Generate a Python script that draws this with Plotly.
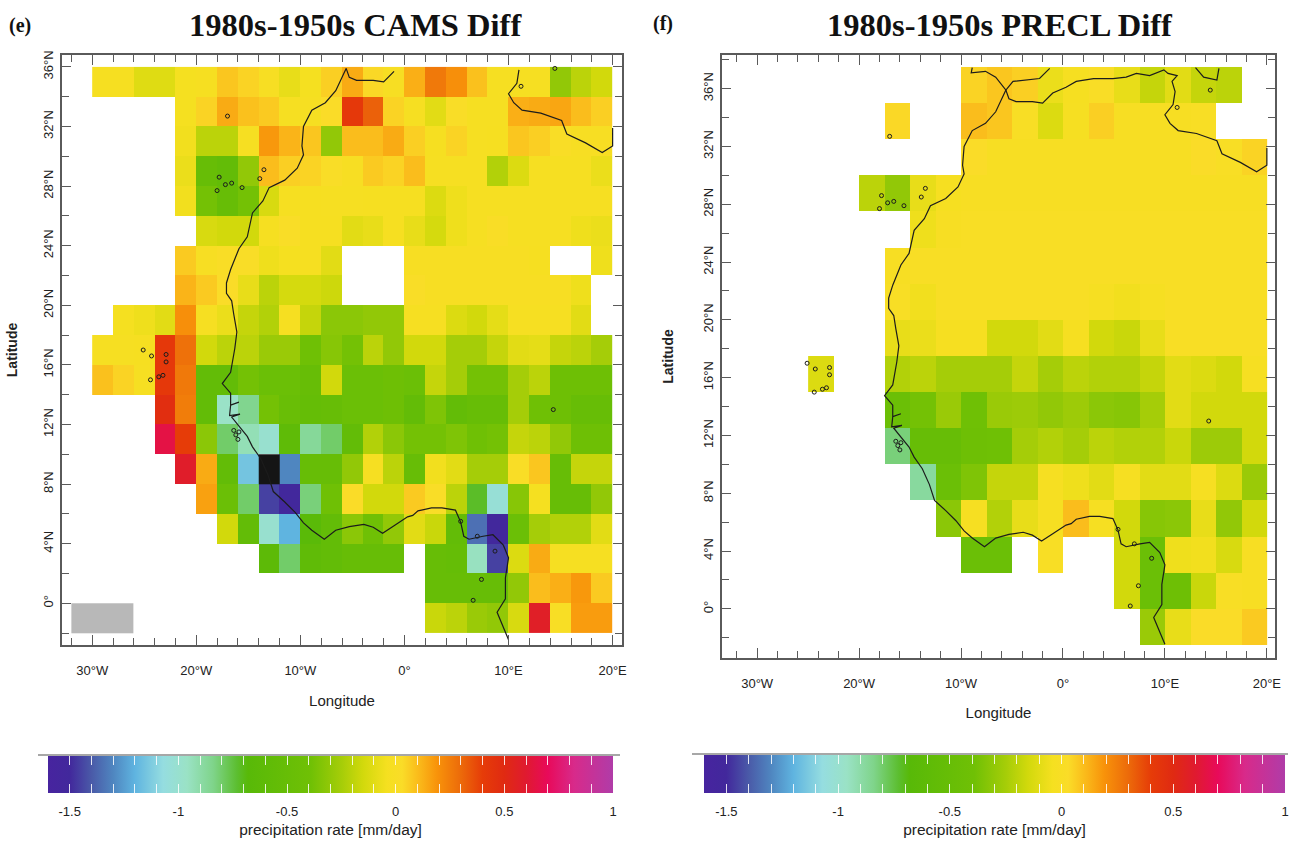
import plotly.graph_objects as go

N = None
W, H = 1293, 845

# ---------- CAMS grid (2 x 2 deg), rows north to south ----------
cams_lon = [-29,-27,-25,-23,-21,-19,-17,-15,-13,-11,-9,-7,-5,-3,-1,1,3,5,7,9,11,13,15,17,19]
cams_lat = [35,33,31,29,27,25,23,21,19,17,15,13,11,9,7,5,3,1,-1]
cams_z = [
 [-.03,-.03,-.11,-.11,-.04,-.03,.08,.05,-.01,-.08,-.04,.06,.14,.04,-.01,.13,.26,.2,.09,-.02,-.02,-.02,-.3,-.2,-.15],
 [N,N,N,N,-.04,.05,.14,.09,.07,-.02,-.02,.03,.42,.32,.05,-.02,-.1,.02,-.02,-.02,.13,.14,.15,.1,.06],
 [N,N,N,N,-.05,-.2,-.2,-.02,.18,.12,.08,-.3,.1,.1,.14,.06,-.03,.05,-.02,-.03,.08,.06,.01,-.01,-.01],
 [N,N,N,N,-.07,-.5,-.55,-.3,.1,.06,.05,.02,-.01,.07,.05,.1,-.02,-.02,-.02,-.22,-.12,-.02,-.02,-.02,-.07],
 [N,N,N,N,-.05,-.38,-.5,-.38,-.13,-.03,-.03,-.02,-.02,-.03,-.03,-.03,-.12,-.06,-.02,-.02,-.02,-.02,-.02,-.02,-.02],
 [N,N,N,N,N,-.13,-.15,-.15,-.03,.02,-.03,-.03,-.1,-.08,-.03,-.08,-.14,-.06,-.02,.01,-.02,-.02,-.02,-.06,-.07],
 [N,N,N,N,.07,-.01,.01,.02,-.06,-.04,-.03,-.1,N,N,N,-.01,-.01,-.01,-.01,-.01,-.01,-.03,N,N,-.06],
 [N,N,N,N,.12,.07,.03,-.08,-.2,-.14,-.14,-.16,N,N,N,.02,-.01,-.01,-.01,-.01,-.01,-.01,-.01,-.06,N],
 [N,-.04,-.06,-.1,.2,-.02,-.07,-.18,-.22,-.03,-.18,-.32,-.32,-.3,-.3,-.02,-.02,-.12,-.15,-.09,-.02,-.02,-.02,-.1,N],
 [-.02,-.02,-.03,.42,.28,-.15,-.2,-.2,-.28,-.28,-.4,-.33,-.38,-.2,-.3,-.15,-.15,-.25,-.25,-.18,-.1,-.09,-.18,-.2,-.25],
 [.09,.05,-.02,.42,.26,-.55,-.55,-.38,-.45,-.45,-.5,-.15,-.45,-.45,-.42,-.45,-.18,-.25,-.38,-.38,-.25,-.2,-.42,-.42,-.42],
 [N,N,N,.48,.25,-.55,-.97,-.85,-.38,-.48,-.52,-.5,-.45,-.45,-.42,-.55,-.35,-.55,-.5,-.5,-.25,-.4,-.42,-.5,-.5],
 [N,N,N,.65,.4,-.32,-.8,-.93,-1.0,-.6,-.87,-.8,-.55,-.22,-.32,-.38,-.38,-.35,-.4,-.38,-.18,-.2,-.3,-.42,-.42],
 [N,N,N,N,.58,.14,-.55,-1.15,N,-1.3,-.5,-.5,-.3,-.02,-.2,-.5,-.05,-.1,-.25,-.25,.01,.08,-.5,-.18,-.18],
 [N,N,N,N,N,.16,-.45,-.8,-1.45,-1.5,-.82,-.4,.03,-.15,-.15,.07,.02,-.2,-.72,-1.03,-.33,-.04,-.5,-.5,-.3],
 [N,N,N,N,N,N,-.15,-.55,-1.0,-1.2,-.65,-.55,-.32,-.4,-.3,-.1,-.17,-.55,-1.35,-1.5,-.45,-.25,-.22,-.22,-.1],
 [N,N,N,N,N,N,N,N,-.62,-.8,-.58,-.55,-.5,-.5,-.5,N,-.5,-.52,-.95,-1.45,-.12,.14,-.02,-.02,-.02],
 [N,N,N,N,N,N,N,N,N,N,N,N,N,N,N,N,-.5,-.5,-.5,-.5,-.3,.1,.13,.18,.07],
 [N,N,N,N,N,N,N,N,N,N,N,N,N,N,N,N,-.17,-.2,-.28,-.3,-.13,.57,.0,.17,.17],
]
# cell below the colour range (black) and the grey patch, CAMS panel
below_range_lon = -13
below_range_lat = 9
grey_patch_lon = -31
grey_patch_lat = -1

# ---------- PRECL grid (2.5 x 2.5 deg), rows north to south ----------
precl_lon = [-23.75,-21.25,-18.75,-16.25,-13.75,-11.25,-8.75,-6.25,-3.75,-1.25,1.25,3.75,6.25,8.75,11.25,13.75,16.25,18.75]
precl_lat = [36.25,33.75,31.25,28.75,26.25,23.75,21.25,18.75,16.25,13.75,11.25,8.75,6.25,3.75,1.25,-1.25]
precl_z = [
 [N,N,N,N,N,N,.05,.08,.06,-.07,-.03,.01,-.08,-.18,-.1,-.18,-.2,N],
 [N,N,N,.04,N,N,.1,.08,.0,-.12,-.02,.06,-.01,-.01,-.01,.0,N,N],
 [N,N,N,N,N,N,.03,-.01,-.01,-.01,-.01,-.01,-.01,-.01,-.01,.03,0,.05],
 [N,N,-.2,-.3,-.08,-.03,-.01,-.01,-.01,-.01,-.01,-.01,-.01,-.01,-.01,-.01,-.01,-.01],
 [N,N,N,N,-.06,-.01,0,0,0,0,0,0,0,0,0,0,0,0],
 [N,N,N,-.01,0,0,0,0,0,0,0,0,0,0,0,0,0,0],
 [N,N,N,0,-.05,0,0,0,0,0,0,-.02,-.05,-.02,0,0,0,0],
 [N,N,N,-.08,-.07,-.03,-.03,-.15,-.15,-.1,-.03,-.15,-.17,-.08,0,0,0,0],
 [-.12,N,N,-.22,-.2,-.25,-.25,-.25,-.18,-.25,-.2,-.22,-.22,-.18,-.1,-.12,-.15,-.02],
 [N,N,N,-.45,-.38,-.28,-.4,-.28,-.27,-.3,-.27,-.32,-.33,-.25,-.1,-.15,-.15,-.15],
 [N,N,N,-.82,-.5,-.5,-.42,-.4,-.25,-.22,-.25,-.2,-.22,-.22,-.17,-.27,-.27,-.15],
 [N,N,N,N,-.88,-.45,-.35,-.18,-.18,-.02,-.06,-.1,-.02,-.1,-.1,-.02,-.12,-.28],
 [N,N,N,N,N,-.32,-.02,-.22,-.08,-.02,.1,-.02,-.15,-.33,-.32,-.08,-.3,-.15],
 [N,N,N,N,N,N,-.45,-.45,N,.0,N,N,-.15,-.45,-.06,-.05,-.13,-.01],
 [N,N,N,N,N,N,N,N,N,N,N,N,-.15,-.45,-.42,-.17,.0,-.01],
 [N,N,N,N,N,N,N,N,N,N,N,N,N,-.28,-.08,.03,.03,.07],
]

# ---------- colour ramp ----------
ramp_values = [-1.6,-1.5,-1.4,-1.3,-1.2,-1.07,-.96,-.84,-.73,-.68,-.39,-.25,-.15,-.04,.03,.12,.19,.3,.4,.5,.6,.7,.82,1.0]
ramp_colors = ["#47249f","#42289c","#4a5aa8","#4f86c0","#5fb4e0","#95dde0","#9ae2c5","#7fd48a","#5cbe30","#58b908",
               "#70c005","#a5cd08","#d2d90c","#f5e020","#fadc28","#fab418","#f8930a","#ec6a0a","#e63c08","#e02a12",
               "#e01a30","#e80a5a","#d82a8a","#b03ca8"]
zmin, zmax = -1.6, 1.0
colorscale = [[(v - zmin) / (zmax - zmin), c] for v, c in zip(ramp_values, ramp_colors)]

bar_tick_labels = ["-1.5", "-1", "-0.5", "0", "0.5", "1"]
bar_tick_values = [-1.5, -1, -0.5, 0, 0.5, 1]
bar_fine_ticks = [-1.5,-1.4,-1.3,-1.2,-1.1,-1,-.9,-.8,-.7,-.6,-.5,-.4,-.3,-.2,-.1,0,.1,.2,.3,.4,.5,.6,.7,.8,.9,1]

lon_ticks = [-30, -20, -10, 0, 10, 20]
lon_labels = ["30°W", "20°W", "10°W", "0°", "10°E", "20°E"]
lat_ticks = [0, 4, 8, 12, 16, 20, 24, 28, 32, 36]
lat_labels = ["0°", "4°N", "8°N", "12°N", "16°N", "20°N", "24°N", "28°N", "32°N", "36°N"]

# ---------- coastlines (lon, lat), separate strokes ----------
coast_lon = [
 [-8.9,-9.0,-7.6,-6.6,-5.6,-4.9,-2.3,-1.3],
 [13.0,13.8,15.1,15.3],
 [-5.6,-5.3,-4.6,-3.0,-2.0,-1.0,0.3,1.3,3.0,4.9,6.2,7.2,8.5,9.9,10.3,11.2,10.7,11.0,10.8,10.0,10.5,11.3,13.1,15.1,15.6,17.4,19.0,20.0,20.0],
 [-5.6,-6.6,-7.6,-8.9,-9.7,-9.85,-9.7,-10.3,-11.5,-13.0,-13.6,-14.6,-15.1,-15.9,-16.7,-17.1,-17.1,-16.6,-16.4,-16.1,-16.3,-16.7,-17.5,-16.7,-16.7,-15.9,-16.7,-16.8,-15.8,-16.6,-15.8,-15.1,-14.6,-13.8,-13.1,-12.6,-11.5,-10.5,-9.7,-8.9,-7.7,-6.6,-5.3,-3.9,-3.0,-2.1,-1.0,0.3,0.8,1.3,2.6,3.6,4.9,5.4,5.7,6.2,7.55,8.5,9.5,10.0,9.7,9.7,8.9,9.4,10.0],
]
coast_lat = [
 [37.45,37.1,37.2,36.8,35.9,36.5,36.7,37.4],
 [37.45,36.8,36.6,37.4],
 [35.9,35.3,35.1,35.1,35.0,35.7,36.1,36.5,36.7,36.7,36.8,37.06,36.9,37.3,37.06,36.9,36.5,35.8,34.9,34.2,33.6,33.1,32.9,32.4,31.5,30.9,30.25,30.7,31.9],
 [35.9,34.4,33.6,33.1,32.0,30.7,30.1,29.2,28.4,27.9,27.0,26.2,24.6,23.8,22.4,21.5,20.8,20.3,19.4,18.2,17.1,15.5,14.75,14.1,13.3,13.5,13.3,12.6,12.7,12.5,11.8,11.2,10.5,9.7,8.6,7.5,6.8,6.1,5.4,4.9,4.3,4.9,5.15,5.3,5.1,4.7,5.2,5.8,5.9,6.2,6.4,6.4,6.25,5.45,4.5,4.3,4.5,4.6,3.9,3.05,1.7,0.3,-0.6,-1.5,-2.45],
]
island_lon = [-17.8,-18.0,-17.2,-16.6,-15.6,-13.9,-13.5,-17.0,-25.1,-24.3,-22.9,-22.9,-23.6,-23.2,-24.4,14.3,8.7,7.4,6.6,14.45,11.2,-16.2,-16.0,-15.9,-16.4,7.0,5.4]
island_lat = [28.6,27.7,28.1,28.2,27.9,28.5,29.1,32.7,17.0,16.6,16.7,16.2,15.2,15.3,15.0,13.0,3.5,1.6,0.2,35.9,34.7,11.3,11.0,11.5,11.6,4.5,5.5]


def fx(px):
    return px / W


def fy(py):
    return 1 - py / H


FRAME = "#5a5a5a"
NARROW = "Liberation Sans Narrow, Arial Narrow, Liberation Sans, sans-serif"
SERIF = "Liberation Serif, serif"
CLEAR = "rgba(0,0,0,0)"
TICK_WHITE = "rgba(255,255,255,0.85)"

fig = go.Figure()

panels = [
    dict(sx="x", sy="y", lon=cams_lon, lat=cams_lat, z=cams_z, bar_l=48, bar_r=613, bar_t=756, bar_b=793, lat_max=36),
    dict(sx="x2", sy="y2", lon=precl_lon, lat=precl_lat, z=precl_z, bar_l=704, bar_r=1285, bar_t=755, bar_b=793, lat_max=37.5),
]

for p in panels:
    bw = p["bar_r"] - p["bar_l"]
    fig.add_trace(go.Heatmap(
        x=p["lon"], y=p["lat"], z=p["z"], xaxis=p["sx"], yaxis=p["sy"],
        colorscale=colorscale, zmin=zmin, zmax=zmax, hoverongaps=False,
        colorbar=dict(
            orientation="h", lenmode="pixels", len=bw, thicknessmode="pixels",
            thickness=p["bar_b"] - p["bar_t"], x=fx(p["bar_l"]), xanchor="left",
            y=fy(p["bar_t"]), yanchor="top", xpad=0, ypad=0, outlinewidth=0,
            tickmode="array", tickvals=bar_tick_values, ticktext=bar_tick_labels,
            ticks="outside", ticklen=8, tickcolor=CLEAR, tickwidth=1,
            tickfont=dict(family=NARROW, size=13, color="#222"),
            title=dict(text="precipitation rate [mm/day]", side="bottom",
                       font=dict(family=NARROW, size=15.5, color="#222")),
        ),
    ))
    # transparent companion colour bars: carry the white ticks along both edges
    for edge_top in (p["bar_t"], p["bar_b"] - 9):
        fig.add_trace(go.Heatmap(
            x=[0], y=[0], z=[[0]], xaxis=p["sx"], yaxis=p["sy"], hoverinfo="skip",
            colorscale=[[0, CLEAR], [1, CLEAR]], zmin=zmin, zmax=zmax,
            colorbar=dict(
                orientation="h", lenmode="pixels", len=bw, thicknessmode="pixels", thickness=9,
                x=fx(p["bar_l"]), xanchor="left", y=fy(edge_top), yanchor="top",
                xpad=0, ypad=0, outlinewidth=0, tickmode="array", tickvals=bar_fine_ticks,
                ticks="inside", ticklen=9, tickcolor=TICK_WHITE, tickwidth=1,
                showticklabels=False,
            ),
        ))
    for lo, la in zip(coast_lon, coast_lat):
        clipped = [v if v <= p["lat_max"] else N for v in la]
        fig.add_trace(go.Scatter(x=lo, y=clipped, xaxis=p["sx"], yaxis=p["sy"], mode="lines",
                                 line=dict(color="#1c1c1c", width=1.2), hoverinfo="skip", showlegend=False))
    fig.add_trace(go.Scatter(x=island_lon, y=island_lat, xaxis=p["sx"], yaxis=p["sy"], mode="markers",
                             marker=dict(symbol="circle-open", size=4, color="#1c1c1c", line=dict(width=1)),
                             hoverinfo="skip", showlegend=False))

# black cell and grey patch in the CAMS panel
fig.add_trace(go.Heatmap(x0=below_range_lon, dx=2, y0=below_range_lat, dy=2, z=[[1]], xaxis="x", yaxis="y",
                         colorscale=[[0, "#151515"], [1, "#151515"]], showscale=False))
fig.add_trace(go.Heatmap(x0=grey_patch_lon, dx=2, y0=grey_patch_lat, dy=2, z=[[1, 1, 1]], xaxis="x", yaxis="y",
                         colorscale=[[0, "#b8b8b8"], [1, "#b8b8b8"]], showscale=False))


def lon_axis(dom, rng, standoff):
    return dict(domain=dom, range=rng, showgrid=False, zeroline=False, showline=True,
                linecolor=FRAME, linewidth=1.5, mirror="allticks", ticks="inside", ticklen=10, tickwidth=1,
                tickcolor=FRAME, tickmode="array", tickvals=lon_ticks, ticktext=lon_labels,
                tickfont=dict(family=NARROW, size=13, color="#222"), ticklabelstandoff=13,
                minor=dict(dtick=2, tick0=0, ticks="inside", ticklen=7, tickcolor=FRAME, tickwidth=1, showgrid=False),
                title=dict(text="Longitude", standoff=standoff, font=dict(family=NARROW, size=15, color="#222")))


def lat_axis(dom, rng, standoff):
    return dict(domain=dom, range=rng, showgrid=False, zeroline=False, showline=True,
                linecolor=FRAME, linewidth=1.5, mirror="allticks", ticks="inside", ticklen=9, tickwidth=1,
                tickcolor=FRAME, tickmode="array", tickvals=lat_ticks, ticktext=lat_labels, tickangle=-90,
                tickfont=dict(family=NARROW, size=13, color="#222"), ticklabelstandoff=2,
                minor=dict(dtick=2, tick0=0, ticks="inside", ticklen=7, tickcolor=FRAME, tickwidth=1, showgrid=False),
                title=dict(text="<b>Latitude</b>", standoff=standoff,
                           font=dict(family="Liberation Sans, sans-serif", size=14, color="#222")))


xa1 = lon_axis([fx(62), fx(622)], [-32.9, 20.9], 18)
ya1 = lat_axis([fy(645), fy(55)], [-2.8, 36.8], 20)
xa2 = lon_axis([fx(722), fx(1275)], [-33.45, 20.8], 17)
ya2 = lat_axis([fy(658), fy(55)], [-3.4, 38.33], 24)
xa1["anchor"] = "y"
ya1["anchor"] = "x"
xa2["anchor"] = "y2"
ya2["anchor"] = "x2"


def label(text, x, y, size):
    return dict(text=f"<b>{text}</b>", x=fx(x), y=fy(y), xref="paper", yref="paper", showarrow=False,
                xanchor="center", yanchor="middle", font=dict(family=SERIF, size=size, color="#111"))


fig.update_layout(
    width=W, height=H, margin=dict(l=0, r=0, t=0, b=0, autoexpand=False), paper_bgcolor="white", plot_bgcolor="white",
    showlegend=False, xaxis=xa1, yaxis=ya1, xaxis2=xa2, yaxis2=ya2,
    annotations=[
        label("(e)", 20, 25, 20), label("1980s-1950s CAMS Diff", 355, 25, 32.5),
        label("(f)", 663, 23, 20), label("1980s-1950s PRECL Diff", 1000, 25, 32.5),
    ],
    shapes=[
        dict(type="line", xref="paper", yref="paper", x0=fx(38), x1=fx(620), y0=fy(755), y1=fy(755),
             line=dict(color="#8a8a8a", width=1.5)),
        dict(type="line", xref="paper", yref="paper", x0=fx(692), x1=fx(1288), y0=fy(754), y1=fy(754),
             line=dict(color="#8a8a8a", width=1.5)),
    ],
)

fig.write_html("out.html", config=dict(displayModeBar=False),
               post_script="document.body.style.margin='0';document.body.style.overflow='hidden';")
